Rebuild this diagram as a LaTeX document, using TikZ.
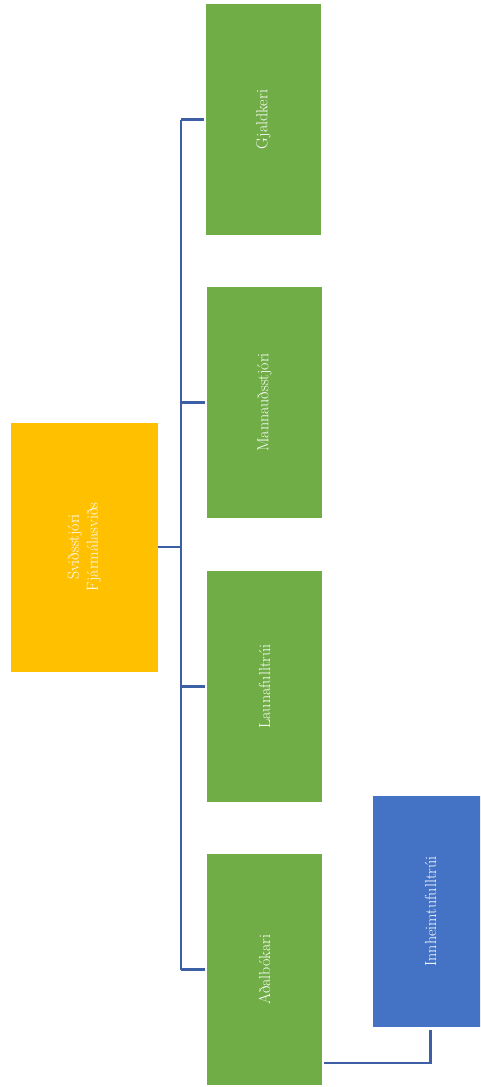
\documentclass[tikz,border=0pt]{standalone}
\usepackage{fontspec}
\usetikzlibrary{positioning}

\definecolor{rootorange}{HTML}{FFC000}
\definecolor{staffgreen}{HTML}{70AD47}
\definecolor{subblue}{HTML}{4472C4}
\definecolor{linkblue}{HTML}{3C5FA5}

\begin{document}
\begin{tikzpicture}
[x=1pt, y=-1pt,
box/.style={minimum width=115pt, minimum height=231pt, inner sep=0pt,
  text=white, font=\fontsize{16}{19}\selectfont},
rootbox/.style={box, fill=rootorange, minimum width=147pt, minimum height=249pt},
staffbox/.style={box, fill=staffgreen},
subbox/.style={box, fill=subblue},
link/.style={draw=linkblue, line width=2.2pt}]
  \useasboundingbox (0,0) rectangle (480,1087);
  \clip (0,0) rectangle (480,1087);
  % boxes
  \node [rootbox] (svid) at (84.5,547) {\rotatebox{90}{\begin{tabular}{@{}c@{}}Sviðsstjóri\\Fjármálasviðs\end{tabular}}};
  \node [staffbox] (gjald) at (263.5,119.5) {\rotatebox{90}{Gjaldkeri}};
  \node [staffbox] (mann) at (264.5,402.5) {\rotatebox{90}{Mannauðsstjóri}};
  \node [staffbox] (laun) at (264.5,686.5) {\rotatebox{90}{Launafulltrúi}};
  \node [staffbox] (adal) at (264.5,969.5) {\rotatebox{90}{Aðalbókari}};
  \node [subbox] (innh) at (430.5,911.5) {\rotatebox{90}{Innheimtufulltrúi}};
  % connectors
  \draw [link, line width=2.8pt] (svid.east) -- ++(23,0) coordinate (bus);
  \draw [link] (bus |- gjald.west) -- (bus |- adal.west);
  \draw [link, shorten >=2pt] (bus |- gjald.west) -- (gjald.west);
  \draw [link, shorten >=2pt] (bus |- mann.west) -- (mann.west);
  \draw [link, shorten >=2pt] (bus |- laun.west) -- (laun.west);
  \draw [link, shorten >=2pt] (bus |- adal.west) -- (adal.west);
  \draw [link, shorten <=2pt, shorten >=3pt] ([yshift=22pt]adal.south east) -| (innh.south);
\end{tikzpicture}
\end{document}
